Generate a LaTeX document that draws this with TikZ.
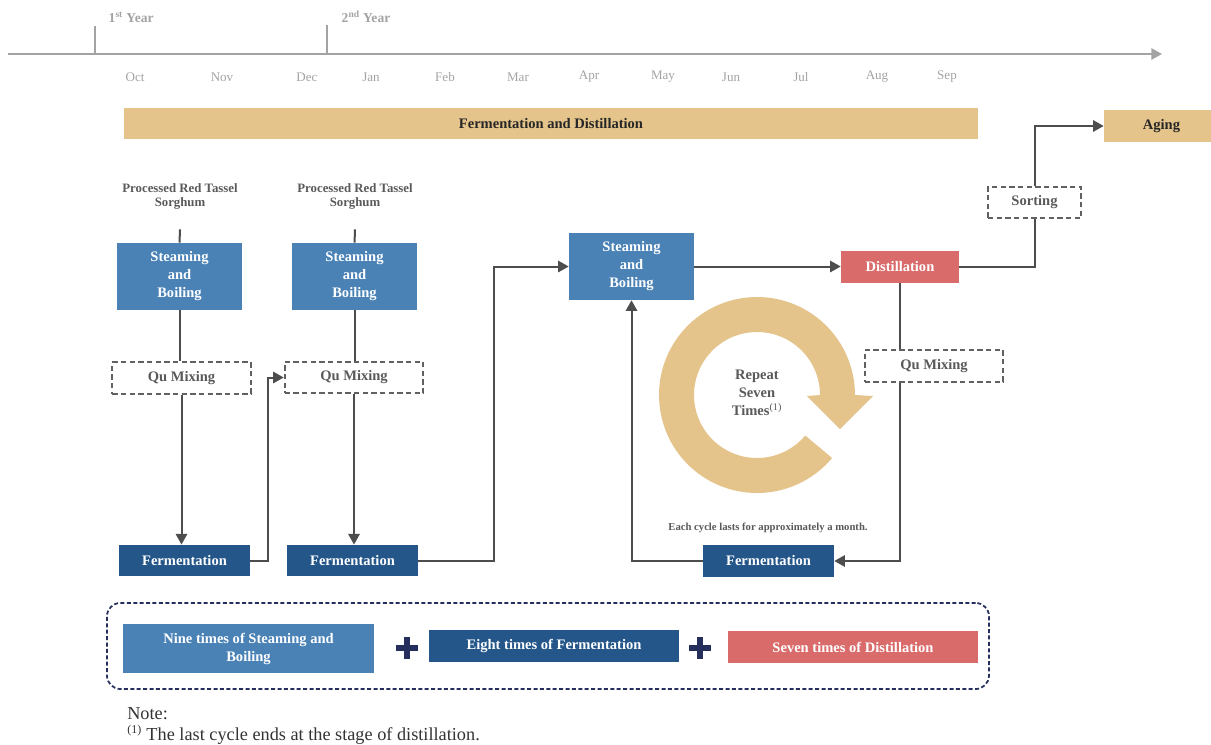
\documentclass[tikz,border=0pt]{standalone}
\usepackage{fontspec}
\setmainfont{Liberation Serif}
\usepackage{tikz}
\usetikzlibrary{arrows.meta,positioning,calc}
\definecolor{cblue}{HTML}{4A82B6}
\definecolor{cnavy}{HTML}{24568A}
\definecolor{cred}{HTML}{D96B6B}
\definecolor{cgold}{HTML}{E4C48A}
\definecolor{cline}{HTML}{4D4D4D}
\definecolor{ctext}{HTML}{595959}
\definecolor{cgrey}{HTML}{A3A3A3}
\definecolor{cframe}{HTML}{262E5C}
\newcommand\bxfont{\fontsize{10.9}{13.5}\selectfont\bfseries}

\begin{document}
\begin{tikzpicture}[x=0.75pt,y=-0.75pt,-,>={Triangle[length=8pt,width=8.5pt]},
  box node/.style={rectangle,inner sep=0pt,align=center,font=\bxfont,text=white},
  steam node/.style={box node,fill=cblue,minimum width=93.75pt,minimum height=50.25pt},
  ferm node/.style={box node,fill=cnavy,minimum width=98.25pt,minimum height=23.5pt},
  dist node/.style={box node,fill=cred,minimum width=88.5pt,minimum height=24pt},
  gold node/.style={box node,fill=cgold,text=black!85,minimum height=23.5pt},
  qu node/.style={box node,draw=black!62,dashed,dash pattern=on 4pt off 2.5pt,line width=1.4pt,
    text=ctext,minimum width=104pt,minimum height=23.5pt},
  sorghum node/.style={align=center,text=ctext,minimum height=49.5pt,
    font=\fontsize{9.6}{10.5}\selectfont\bfseries},
  month node/.style={text=cgrey,font=\fontsize{9.8}{12}\selectfont},
  year node/.style={text=cgrey,anchor=west,font=\fontsize{10.2}{12}\selectfont\bfseries},
  flow/.style={->,cline,line width=1.5pt},
  link/.style={-,cline,line width=1.5pt}]
  \useasboundingbox (0,0) rectangle (1211,744);

  % time line
  \coordinate (t0) at (8,54);
  \coordinate (t1) at (1162,54);
  \draw[->,cgrey,line width=1.5pt] (t0) -- (t1);
  \draw[cgrey,line width=1.1pt] (95,26) -- (95,54) (327,25) -- (327,54);
  \node[year node] (y1) at (104,17) {1\textsuperscript{st} Year};
  \node[year node] (y2) at (337,17) {2\textsuperscript{nd} Year};
  \foreach \m/\x in {Oct/135,Nov/222,Dec/307,Jan/371,Feb/445,Mar/518,Apr/589,May/663,Jun/731,Jul/801,Aug/877,Sep/947}
    \node[month node] (m\m) at (\x,77) {\m};

  \node[gold node,minimum width=640.5pt] (band) at (551,123.5) {Fermentation and Distillation};
  \node[gold node,minimum width=80.25pt,minimum height=24pt] (aging) at (1157.5,126) {\hspace{6pt}Aging};

  % first two rounds
  \node[sorghum node] (sorg1) at (180,196) {Processed Red Tassel\\Sorghum};
  \node[sorghum node] (sorg2) at (355,196) {Processed Red Tassel\\Sorghum};
  \node[steam node] (steam1) at (179.5,276.5) {Steaming\\and\\Boiling};
  \node[steam node] (steam2) at (354.5,276.5) {Steaming\\and\\Boiling};
  \node[qu node] (qu1) at (181.5,378) {Qu Mixing};
  \node[qu node] (qu2) at (354,377.5) {Qu Mixing};
  \node[ferm node] (ferm1) at (184.5,560.5) {Fermentation};
  \node[ferm node] (ferm2) at (352.5,560.5) {Fermentation};

  % repeated cycle
  \node[steam node] (steam3) at (631.5,266.5) {Steaming\\and\\Boiling};
  \node[dist node] (dist) at (900,266.5) {Distillation};
  \node[qu node] (qu3) at (934,366) {Qu Mixing};
  \node[ferm node,minimum height=24pt] (ferm3) at (768.5,561) {Fermentation};
  \node[qu node,minimum width=69.75pt] (sort) at (1034.5,202.5) {Sorting};

  \fill[cgold] ($(757,395)+(40:98)$) arc[start angle=40,end angle=360,radius=98]
    -- (873,396) -- (840,429) -- (807,396) -- (820,395)
    arc[start angle=360,end angle=40,radius=63] -- cycle;
  \node[align=center,text=ctext,font=\bxfont] (rep) at (757,393)
    {Repeat\\Seven\\Times\textsuperscript{\normalfont(1)}};
  \node[text=ctext,font=\fontsize{8}{10}\selectfont\bfseries] (cyc) at (768,528)
    {Each cycle lasts for approximately a month.};

  \draw[link] (sorg1) -- (steam1);
  \draw[link] (sorg2) -- (steam2);
  \draw[link] (steam1) -- (steam1.south |- qu1.north);
  \draw[link] (steam2) -- (steam2.south |- qu2.north);
  \draw[flow] (qu1.south) -- (qu1.south |- ferm1.north);
  \draw[flow] (qu2.south) -- (qu2.south |- ferm2.north);
  \draw[flow] (ferm1.east) -- ++(18,0) |- (qu2.west);
  \draw[flow] (ferm2.east) -- ++(76,0) |- (steam3.west);
  \draw[flow] (steam3.east) -- (dist.west);
  \draw[link] (dist.south) -- (dist.south |- qu3.north);
  \draw[flow] (dist.south |- qu3.south) |- (ferm3.east);
  \draw[flow] (ferm3.west) -| (steam3.south);
  \draw[link] (dist.east) -| (sort.south);
  \draw[flow] (sort.north) |- (aging.west);

  % summary
  \node[draw=cframe,dashed,dash pattern=on 3pt off 1.8pt,line width=1.3pt,rounded corners=10pt,
    minimum width=661.5pt,minimum height=64.5pt] (frame) at (548,646) {};
  \node[steam node,minimum width=188.25pt,minimum height=36.75pt] (sumsteam) at (248.5,648.5)
    {Nine times of Steaming and\\Boiling};
  \node[ferm node,minimum width=187.5pt,minimum height=24pt] (sumferm) at (554,646)
    {Eight times of Fermentation};
  \node[dist node,minimum width=187.5pt] (sumdist) at (853,647) {Seven times of Distillation};
  \draw[cframe,line width=4.8pt] (396,648) -- (418,648) (407,637) -- (407,659)
    (689,648) -- (711,648) (700,637) -- (700,659);

  \node[anchor=west,text=black!80,font=\fontsize{13.7}{16}\selectfont,inner sep=0pt] (note) at (127,714) {Note:};
  \node[anchor=west,text=black!80,font=\fontsize{13.7}{16}\selectfont,inner sep=0pt] (fn) at (127,735)
    {\textsuperscript{\fontsize{9}{10}\selectfont(1)} The last cycle ends at the stage of distillation.};
\end{tikzpicture}
\end{document}
